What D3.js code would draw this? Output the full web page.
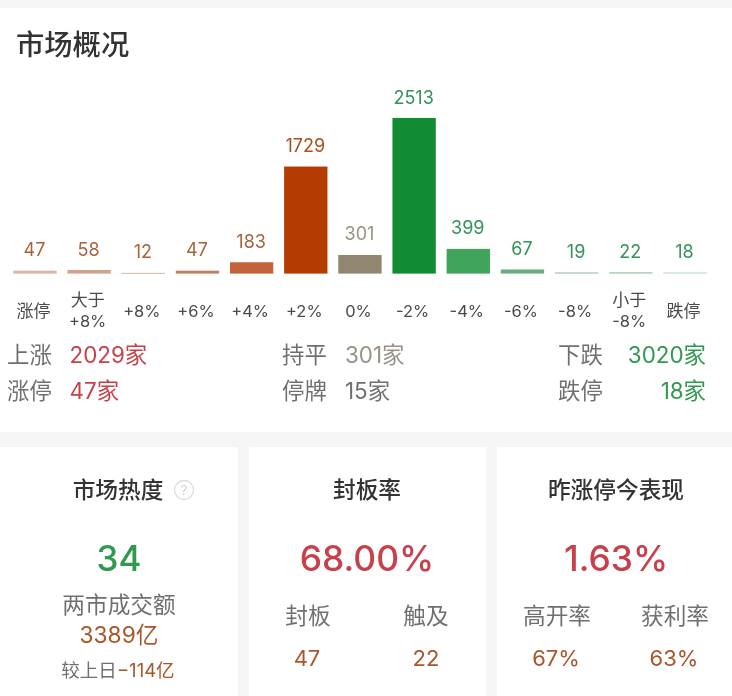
<!DOCTYPE html>
<html><head><meta charset="utf-8">
<script src="https://cdn.jsdelivr.net/npm/d3@7/dist/d3.min.js"></script>
<style>html,body{margin:0;padding:0;background:#fff}svg{display:block;filter:blur(.35px)}text{font-family:"Inter","Noto Sans CJK SC",sans-serif}</style>
</head><body><svg id="c" width="732" height="696"></svg>
<script>
const categories=["涨停","大于|+8%","+8%","+6%","+4%","+2%","0%","-2%","-4%","-6%","-8%","小于|-8%","跌停"];
const counts=[47,58,12,47,183,1729,301,2513,399,67,19,22,18];
const barColors=["#dcb6a5","#d3a28c","#dcb6a5","#c07f62","#c4623a","#b53c00","#91866f","#128c33","#41a45c","#6bac80","#9cc6a9","#a3c9b0","#c0d9c8"];
const textColors=["#a8623c","#a8623c","#a8623c","#a8623c","#a8623c","#a8501f","#9a9384","#34925a","#34925a","#34925a","#34925a","#34925a","#34925a"];
const RED="#c8414a",GREEN="#2f9a4f",BROWN="#a8562c",GRAY="#707073",DARK="#333";
const svg=d3.select("#c");
const bg=[[0,0,732,8],[0,432,732,15]];
svg.selectAll("rect.bg").data(bg).join("rect").attr("class","bg").attr("x",d=>d[0]).attr("y",d=>d[1]).attr("width",d=>d[2]).attr("height",d=>d[3]).attr("fill","#f5f5f5");
svg.selectAll("rect.gap").data([[238,249],[486.5,497]]).join("rect").attr("x",d=>d[0]).attr("y",447).attr("width",d=>d[1]-d[0]).attr("height",249).attr("fill","#f5f5f5");
const T=(s,x,y,size,fill,anchor="middle",weight=400)=>svg.append("text").text(s).attr("x",x).attr("y",y).attr("font-size",size).attr("fill",fill).attr("text-anchor",anchor).attr("font-weight",weight);
T("市场概况",16,55,28.3,DARK,"start",500);
const x=d3.scaleBand().domain(categories).range([13.3,706.6]).paddingInner(0.2);
const y=d3.scaleLinear().domain([0,2513]).range([273.6,118]);
svg.selectAll("rect.bar").data(counts).join("rect").attr("class","bar")
 .attr("x",(d,i)=>x(categories[i])).attr("width",x.bandwidth())
 .attr("y",d=>y(d)).attr("height",d=>Math.max(y(0)-y(d),1)).attr("fill",(d,i)=>barColors[i]);
svg.selectAll("text.val").data(counts).join("text").attr("class","val")
 .attr("x",(d,i)=>x(categories[i])+x.bandwidth()/2-.5).attr("y",d=>y(d)-14.5)
 .attr("text-anchor","middle").attr("font-size",18).attr("fill",(d,i)=>textColors[i]).text(d=>d);
const ax=svg.append("g").attr("transform","translate(-1.5,0)").call(d3.axisBottom(x).tickSize(0).tickFormat(""));
ax.select(".domain").remove();
ax.selectAll(".tick").each(function(c){
  const parts=c.split("|"),g=d3.select(this);
  g.select("text").remove();
  parts.forEach((p,i)=>g.append("text").text(p).attr("text-anchor","middle").attr("font-size",/[+\-]/.test(p)||p==="0%"?16.5:17).attr("fill","#4a4a4a")
    .attr("y",parts.length>1?(i?327:306):316.5));
});
// summary rows
const S=22.4;
T("上涨",7,363,S,GRAY,"start");T("2029家",69.5,363,S,RED,"start");
T("涨停",7,399,S,GRAY,"start");T("47家",69.5,399,S,RED,"start");
T("持平",282,363,S,GRAY,"start");T("301家",345,363,S,"#9a9384","start");
T("停牌",282,399,S,GRAY,"start");T("15家",345,399,S,GRAY,"start");
T("下跌",558,363,S,GRAY,"start");T("3020家",706,363,S,GREEN,"end");
T("跌停",558,399,S,GRAY,"start");T("18家",706,399,S,GREEN,"end");
// cards
const H=22.7,L=22.7;
T("市场热度",118,498,H,DARK,"middle",500);
svg.append("circle").attr("cx",184).attr("cy",490).attr("r",9.5).attr("fill","none").attr("stroke","#ddd").attr("stroke-width",1.3);
T("?",184,495,13,"#ccc");
T("34",119,571,35,GREEN,"middle",500);
T("两市成交额",119,613,L,GRAY);
T("3389亿",119,643,L,BROWN);
const l=svg.append("text").attr("x",118).attr("y",677).attr("font-size",18.5).attr("text-anchor","middle");
l.append("tspan").attr("fill",GRAY).text("较上日");
l.append("tspan").attr("fill",BROWN).text("−114亿");
T("封板率",367,498,H,DARK,"middle",500);
T("68.00%",367,571,35.4,RED,"middle",500);
T("封板",308,624,L,GRAY);T("触及",426,624,L,GRAY);
T("47",307,666,22,BROWN);T("22",426,666,22,BROWN);
T("昨涨停今表现",616,498,H,DARK,"middle",500);
T("1.63%",616,571,35.4,RED,"middle",500);
T("高开率",557,624,L,GRAY);T("获利率",675,624,L,GRAY);
T("67%",556,666,22,BROWN);T("63%",674,666,22,BROWN);
</script></body></html>
